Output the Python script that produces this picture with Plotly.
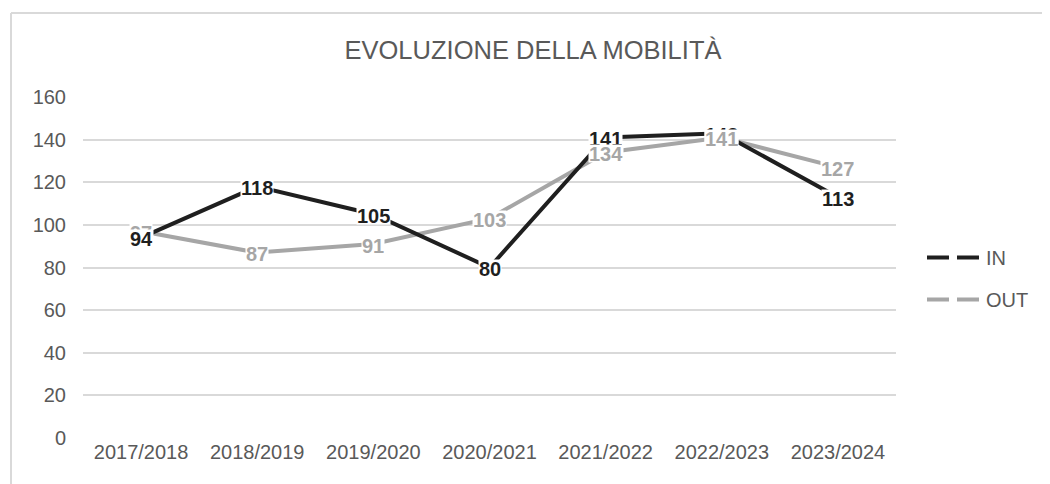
import plotly.graph_objects as go

categories = ["2017/2018", "2018/2019", "2019/2020", "2020/2021", "2021/2022", "2022/2023", "2023/2024"]
in_values = [94, 118, 105, 80, 141, 143, 113]
out_values = [97, 87, 91, 103, 134, 141, 127]
y_ticks = [0, 20, 40, 60, 80, 100, 120, 140, 160]

IN_COLOR = "#1f1f1f"
OUT_COLOR = "#a6a6a6"
TEXT_COLOR = "#595959"
GRID_COLOR = "#d9d9d9"
FONT = "Liberation Sans, Arial, sans-serif"

OFF = 8  # page body margin offset
W, H = 1050, 484
L = 83 - OFF
pw = 813
R = W - L - pw
T = 97 - OFF
B = H - (438 - OFF)
ph = H - T - B

fig = go.Figure()
fig.add_trace(go.Scatter(x=categories, y=out_values, mode="lines", name="OUT",
                         line=dict(color=OUT_COLOR, width=4), showlegend=False))
fig.add_trace(go.Scatter(x=categories, y=in_values, mode="lines", name="IN",
                         line=dict(color=IN_COLOR, width=4), showlegend=False))
# legend-only entries
fig.add_trace(go.Scatter(x=[None], y=[None], mode="lines", name="IN", legendgroup="in",
                         line=dict(color=IN_COLOR, width=4, dash="22px,8px")))
fig.add_trace(go.Scatter(x=[None], y=[None], mode="lines", name="OUT", legendgroup="out",
                         line=dict(color=OUT_COLOR, width=4, dash="22px,8px")))

annotations = []
for i, c in enumerate(categories):
    pairs = [(in_values[i], IN_COLOR), (out_values[i], OUT_COLOR)]
    pairs.sort(key=lambda p: -p[0])  # higher first, lower drawn on top
    for v, col in pairs:
        annotations.append(dict(x=c, y=v, xref="x", yref="y", text=f"<b>{v}</b>",
                                showarrow=False, bgcolor="white", borderpad=0,
                                height=17, yshift=-1,
                                font=dict(family=FONT, size=20, color=col)))

def px_x(p):
    return (p - OFF - L) / pw

def px_y(p):
    return (H - B - (p - OFF)) / ph

shapes = [
    dict(type="line", xref="paper", yref="paper", x0=px_x(11), x1=px_x(1070),
         y0=px_y(13), y1=px_y(13), line=dict(color=GRID_COLOR, width=2)),
    dict(type="line", xref="paper", yref="paper", x0=px_x(11), x1=px_x(11),
         y0=px_y(13), y1=px_y(520), line=dict(color=GRID_COLOR, width=2)),
]

fig.update_layout(
    width=W, height=H,
    margin=dict(l=L, r=R, t=T, b=B, pad=0, autoexpand=False),
    paper_bgcolor="white", plot_bgcolor="white",
    font=dict(family=FONT, size=20, color=TEXT_COLOR),
    title=dict(text="EVOLUZIONE DELLA MOBILITÀ", x=0.5, xanchor="center",
               y=1 - (50 - OFF) / H, yanchor="middle",
               font=dict(family=FONT, size=25.5, color=TEXT_COLOR)),
    xaxis=dict(showgrid=False, showline=False, zeroline=False, ticks="",
               tickfont=dict(size=20, color=TEXT_COLOR), range=[-0.5, 6.5]),
    yaxis=dict(range=[0, 160], tickvals=y_ticks, showgrid=True, gridcolor=GRID_COLOR,
               gridwidth=2, zeroline=False, showline=False, ticks="",
               tickfont=dict(size=20, color=TEXT_COLOR), ticklabelstandoff=16),
    legend=dict(x=px_x(922), y=px_y(238), xanchor="left", yanchor="top",
                font=dict(size=20, color=TEXT_COLOR), bgcolor="rgba(0,0,0,0)",
                itemwidth=54, tracegroupgap=13),
    annotations=annotations,
    shapes=shapes,
)

fig.write_html("out.html")
